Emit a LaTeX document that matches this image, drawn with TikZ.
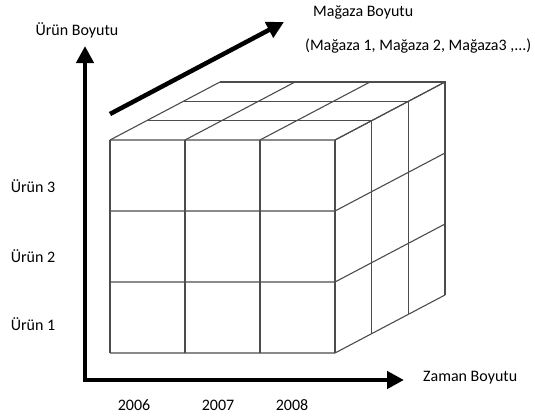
\documentclass[tikz,border=0pt]{standalone}
\usepackage{fontspec}
\setmainfont{Carlito}
\usetikzlibrary{arrows.meta,positioning}

\begin{document}
\begin{tikzpicture}[x=1pt,y=-1pt]
       \tikzset{cubeline/.style={draw=black!70,line width=1.1pt},
                axisarrow/.style={line width=4.5pt,-{Triangle[length=17pt,width=17pt]}},
                lbl/.style={font=\fontsize{16}{18}\selectfont,inner sep=0pt}}
       \useasboundingbox (0,0) rectangle (535,415);

       % cube: front face 225 x 213, depth offset (110,-58)
       \foreach \i in {0,...,3} {
         \draw[cubeline] (110+75*\i,140) -- (110+75*\i,353);
         \draw[cubeline] (110+75*\i,140) -- ++(110,-58);
       }
       \foreach \y in {140,211,282,353} {
         \draw[cubeline] (110,\y) -- (335,\y) -- ++(110,-58);
       }
       \foreach \k in {1,2,3} {
         \draw[cubeline] (110+36.67*\k,140-19.33*\k) -- ++(225,0) -- ++(0,213);
       }

       % axes
       \coordinate (O) at (85,380);
       \coordinate (ytip) at (85,46);
       \coordinate (xtip) at (404,380);
       \coordinate (dbase) at (110,114);
       \coordinate (dtip) at (284,22);
       \draw[axisarrow] (O) -- (ytip);
       \draw[axisarrow] ([xshift=-2.25pt]O) -- (xtip);
       \draw[axisarrow] (dbase) -- (dtip);

       \node[lbl] (urun) at (77,30) {Ürün Boyutu};
       \node[lbl,anchor=west] (magaza) at (313,12) {Mağaza Boyutu};
       \node[lbl,anchor=west] (magazalar) at (305,46) {(Mağaza 1, Mağaza 2, Mağaza3 ,...)};
       \node[lbl,anchor=west] (zaman) at (423,378) {Zaman Boyutu};
       \node[lbl] (u3) at (33,186) {Ürün 3};
       \node[lbl] (u2) at (33,256) {Ürün 2};
       \node[lbl] (u1) at (33,324) {Ürün 1};
       \node[lbl] (y6) at (134,405) {2006};
       \node[lbl] (y7) at (218,405) {2007};
       \node[lbl] (y8) at (292,405) {2008};
\end{tikzpicture}
\end{document}
